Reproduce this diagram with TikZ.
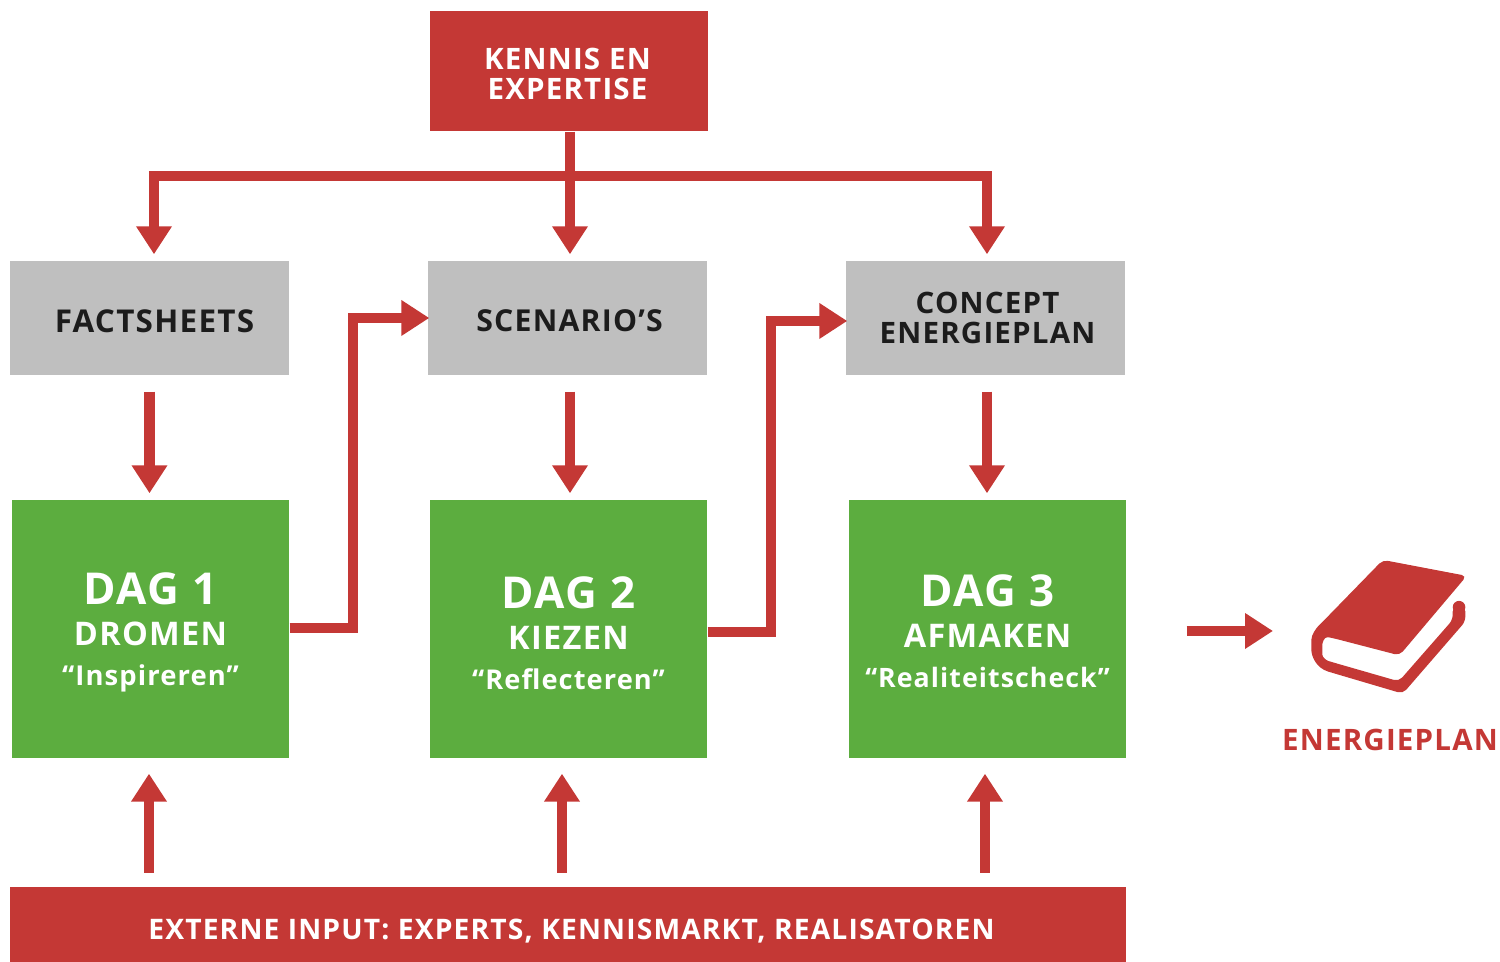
\documentclass[tikz,border=0pt]{standalone}
\usepackage{fontspec}
\setmainfont{Open Sans}[LetterSpace=4.0]
\usetikzlibrary{arrows.meta}
\definecolor{planred}{HTML}{C43835}
\definecolor{plangrey}{HTML}{BFBFBF}
\definecolor{plangreen}{HTML}{5CAD3F}
\definecolor{planink}{HTML}{1C1C1C}
\begin{document}
\begin{tikzpicture}[
    redbox/.style={rectangle, fill=planred, inner sep=0pt},
    greybox/.style={rectangle, fill=plangrey, inner sep=0pt, minimum width=2.79cm, minimum height=1.14cm},
    greenbox/.style={rectangle, fill=plangreen, inner sep=0pt, minimum width=2.77cm, minimum height=2.58cm},
    redtext/.style={text=white, align=center, inner sep=0pt, font=\bfseries\fontsize{8.4}{8.6}\selectfont},
    greytext/.style={text=planink, align=center, inner sep=0pt, font=\bfseries\fontsize{8.5}{8.6}\selectfont},
    daytext/.style={text=white, align=center, inner sep=0pt, font=\bfseries},
    flow/.style={-{Triangle[length=0.28cm, width=0.34cm]}, planred, line width=0.1cm},
    bus/.style={planred, line width=0.1cm},
]
    \useasboundingbox (0, 0) rectangle (15, 9.62);

    \node[redbox, minimum width=2.78cm, minimum height=1.2cm] (kennis) at (5.69, 8.91) {};
    \node[redtext] (kennis-text) at (5.675, 8.88) {KENNIS EN\\EXPERTISE};

    \node[greybox] (factsheets) at (1.495, 6.44) {};
    \node[greybox] (scenarios) at (5.675, 6.44) {};
    \node[greybox] (concept) at (9.855, 6.44) {};
    \node[greytext, font=\bfseries\fontsize{8.95}{8.6}\selectfont] (factsheets-text) at (1.545, 6.41) {FACTSHEETS};
    \node[greytext, font=\bfseries\fontsize{8.6}{8.6}\selectfont] (scenarios-text) at (5.695, 6.41) {SCENARIO’S};
    \node[greytext, font=\bfseries\fontsize{8.4}{8.6}\selectfont] (concept-text) at (9.875, 6.44) {CONCEPT\\ENERGIEPLAN};

    \node[greenbox] (dag-1) at (1.505, 3.33) {};
    \node[greenbox] (dag-2) at (5.685, 3.33) {};
    \node[greenbox] (dag-3) at (9.875, 3.33) {};

    \node[daytext] (dag-1-text) at (1.505, 3.30) {{\fontsize{12.5}{12.6}\selectfont DAG 1}\\[-0.3pt]{\fontsize{9.25}{12}\selectfont DROMEN}\\[-0.7pt]{\fontsize{7.8}{11}\selectfont “Inspireren”}};
    \node[daytext] (dag-2-text) at (5.685, 3.29) {{\fontsize{12.5}{12.6}\selectfont DAG 2}\\[-0.3pt]{\fontsize{9.25}{12}\selectfont KIEZEN}\\[-0.7pt]{\fontsize{7.75}{11}\selectfont “Reflecteren”}};
    \node[daytext] (dag-3-text) at (9.875, 3.31) {{\fontsize{12.5}{12.6}\selectfont DAG 3}\\[-0.3pt]{\fontsize{9.25}{12}\selectfont AFMAKEN}\\[-0.7pt]{\fontsize{7.6}{11}\selectfont “Realiteitscheck”}};

    \node[redbox, minimum width=11.16cm, minimum height=0.75cm] (externe) at (5.68, 0.375) {};
    \node[redtext, font=\bfseries\fontsize{8.04}{8.6}\selectfont] (externe-text) at (5.715, 0.31) {EXTERNE INPUT: EXPERTS, KENNISMARKT, REALISATOREN};

    \coordinate (bus-1) at (1.54, 7.86);
    \coordinate (bus-2) at (5.70, 7.86);
    \coordinate (bus-3) at (9.87, 7.86);
    \coordinate (input-1) at (1.49, 0.89);
    \coordinate (input-2) at (5.62, 0.89);
    \coordinate (input-3) at (9.85, 0.89);
    \coordinate (book-left) at (12.73, 3.31);

    \draw[bus] ([xshift=-0.05cm]bus-1) -- ([xshift=0.05cm]bus-3);
    \draw[flow, shorten >=0.06cm] (bus-2 |- kennis.south) -- (bus-2 |- scenarios.north);
    \draw[flow, shorten >=0.06cm] (bus-1) -- (bus-1 |- factsheets.north);
    \draw[flow, shorten >=0.06cm] (bus-3) -- (bus-3 |- concept.north);

    \draw[flow, shorten <=0.16cm, shorten >=0.06cm] (factsheets.south) -- (factsheets.south |- dag-1.north);
    \draw[flow, shorten <=0.16cm, shorten >=0.06cm] (bus-2 |- scenarios.south) -- (bus-2 |- dag-2.north);
    \draw[flow, shorten <=0.16cm, shorten >=0.06cm] (bus-3 |- concept.south) -- (bus-3 |- dag-3.north);

    \draw[flow, shorten >=-0.02cm] ([yshift=0.01cm]dag-1.east) -- ++(0.63, 0) |- (scenarios.west);
    \draw[flow, shorten >=-0.02cm] ([yshift=-0.03cm]dag-2.east) -- ++(0.63, 0) |- ([yshift=-0.03cm]concept.west);

    \draw[flow, shorten >=0.15cm] (input-1) -- (input-1 |- dag-1.south);
    \draw[flow, shorten >=0.15cm] (input-2) -- (input-2 |- dag-2.south);
    \draw[flow, shorten >=0.15cm] (input-3) -- (input-3 |- dag-3.south);

    \draw[flow, shorten <=0.6cm] (dag-3.east |- book-left) -- (book-left);

    \fill[planred, rounded corners=0.05cm, shift={(11.7, 4.22)}, x=0.00333cm, y=-0.00333cm]
        (640, 60) -- (892, 108) -- (690, 347) -- (490, 295)
        .. controls (462, 290) and (458, 312) .. (458, 330)
        .. controls (458, 352) and (470, 362) .. (490, 368)
        -- (688, 425) -- (850, 240) -- (850, 200) -- (888, 200)
        -- (888, 245) -- (700, 462) -- (490, 400)
        .. controls (440, 385) and (425, 350) .. (425, 315)
        .. controls (425, 285) and (440, 265) .. (455, 250) -- cycle;
    \fill[planred, shift={(11.7, 4.22)}, x=0.00333cm, y=-0.00333cm] (869, 202) circle [radius=0.063cm];

    \node[text=planred, inner sep=0pt, font=\bfseries\fontsize{8.4}{8.6}\selectfont] (energieplan) at (13.90, 2.22) {ENERGIEPLAN};
\end{tikzpicture}
\end{document}
